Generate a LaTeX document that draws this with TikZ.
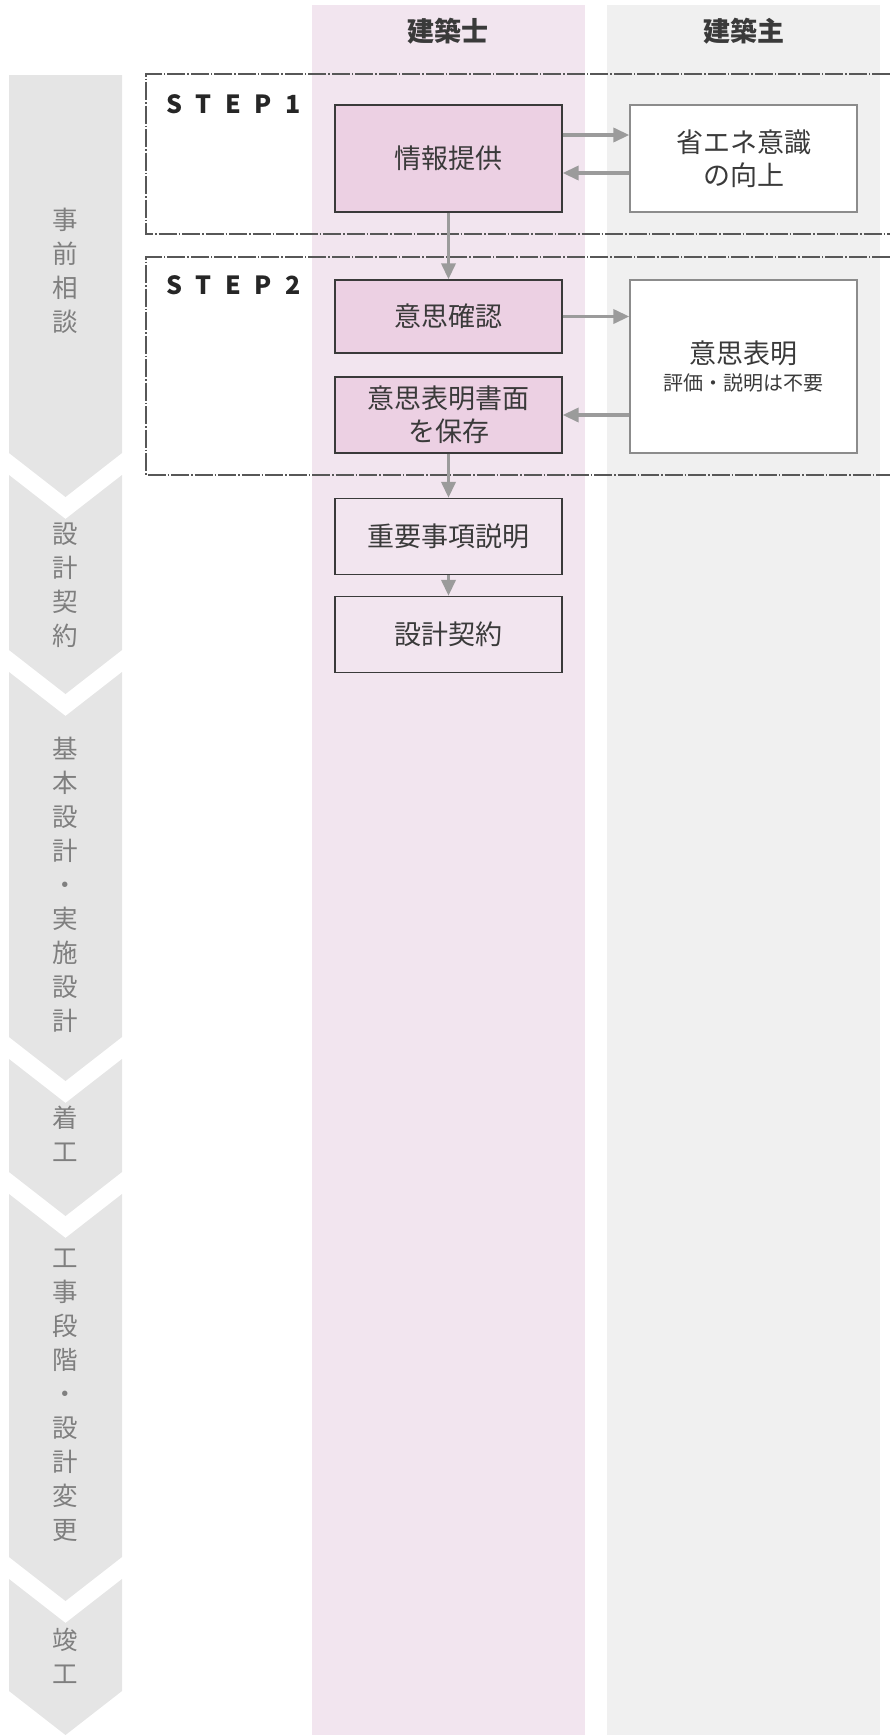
\documentclass[tikz,border=0pt]{standalone}
\usepackage{fontspec}
\setmainfont{Noto Sans CJK JP}
\newfontfamily\stepfont[LetterSpace=55]{Noto Sans CJK JP}
\usetikzlibrary{arrows.meta}

\definecolor{lanepink}{HTML}{F2E5EF}
\definecolor{lanegray}{HTML}{F0F0F0}
\definecolor{boxpink}{HTML}{ECD0E3}
\definecolor{phasegray}{HTML}{E5E5E5}
\definecolor{phasetext}{HTML}{7F7F7F}
\definecolor{flowgray}{HTML}{9B9B9B}
\definecolor{inkgray}{HTML}{3A3A3A}

\begin{document}
\begin{tikzpicture}[x=1pt, y=-1pt,
  task/.style={draw=inkgray, line width=1.3pt, minimum width=227pt, inner sep=0pt,
    align=center, text=inkgray, font=\fontsize{27}{33}\selectfont},
  owner/.style={task, draw=gray!90, fill=white},
  head/.style={text=inkgray, font=\bfseries\fontsize{27}{27}\selectfont},
  flow/.style={-{Triangle[length=16pt,width=14pt]}, flowgray, line width=3.5pt},
  stepframe/.style={inkgray!85, line width=1.2pt, dash pattern=on 18pt off 2pt on 1.5pt off 2pt},
  steplabel/.style={anchor=west, inner sep=0pt, text=black!85, font=\stepfont\bfseries\fontsize{25}{25}\selectfont},
  phase/.style={fill=phasegray},
  phaselabel/.style={text=phasetext, align=center, inner sep=0pt, font=\fontsize{25.5}{34}\selectfont}
]
\useasboundingbox (0,0) rectangle (890,1735);

\fill[lanepink] (312,5) rectangle (585,1735);
\fill[lanegray] (607,5) rectangle (880,1735);

\node[head] (archi) at (448,31) {建築士};
\node[head] (client) at (744,31) {建築主};

\fill[phase] (9,75) -- (122,75) -- (122,453) -- (65.5,497) -- (9,453) -- cycle;
\foreach \t/\b in {475/650, 672/1037, 1059/1172, 1194/1557, 1579/1691}
  \fill[phase] (9,\t) -- (65.5,\t+44) -- (122,\t) -- (122,\b) -- (65.5,\b+44) -- (9,\b) -- cycle;

\node[phaselabel] (consult) at (65.5,271) {事\\前\\相\\談};
\node[phaselabel] (contractph) at (65.5,585) {設\\計\\契\\約};
\node[phaselabel] (design) at (65.5,885) {基\\本\\設\\計\\・\\実\\施\\設\\計};
\node[phaselabel] (start) at (65.5,1134) {着\\工};
\node[phaselabel] (build) at (65.5,1395) {工\\事\\段\\階\\・\\設\\計\\変\\更};
\node[phaselabel] (finish) at (65.5,1656) {竣\\工};

\draw[stepframe] (890,74) -- (146,74) -- (146,234) -- (890,234);
\draw[stepframe] (890,257) -- (146,257) -- (146,475) -- (890,475);
\node[steplabel] (step1) at (166,104) {STEP1};
\node[steplabel] (step2) at (166,285) {STEP2};

\node[task, fill=boxpink, minimum height=107pt] (info) at (448.5,158.5) {情報提供};
\node[owner, minimum height=107pt] (aware) at (743.5,158.5) {省エネ意識\\の向上};
\node[task, fill=boxpink, minimum height=73pt] (confirm) at (448.5,316.5) {意思確認};
\node[task, fill=boxpink, minimum height=76pt] (keep) at (448.5,415) {意思表明書面\\を保存};
\node[owner, minimum height=173pt] (intent) at (743.5,366.5) {意思表明\\[-6pt]{\fontsize{20}{24}\selectfont 評価・説明は不要}};
\node[task, fill=lanepink, minimum height=76pt] (explain) at (448.5,536.5) {重要事項説明};
\node[task, fill=lanepink, minimum height=76pt] (contract) at (448.5,634.5) {設計契約};

\draw[flow] ([yshift=23.5pt]info.east) -- ([yshift=23.5pt]aware.west);
\draw[flow] ([yshift=-14.5pt]aware.west) -- ([yshift=-14.5pt]info.east);
\draw[flow] (info.south) -- (confirm.north);
\draw[flow] (confirm.east) -- (confirm.east -| intent.west);
\draw[flow] (keep.east -| intent.west) -- (keep.east);
\draw[flow] (keep.south) -- (explain.north);
\draw[flow] (explain.south) -- (contract.north);

\end{tikzpicture}
\end{document}
